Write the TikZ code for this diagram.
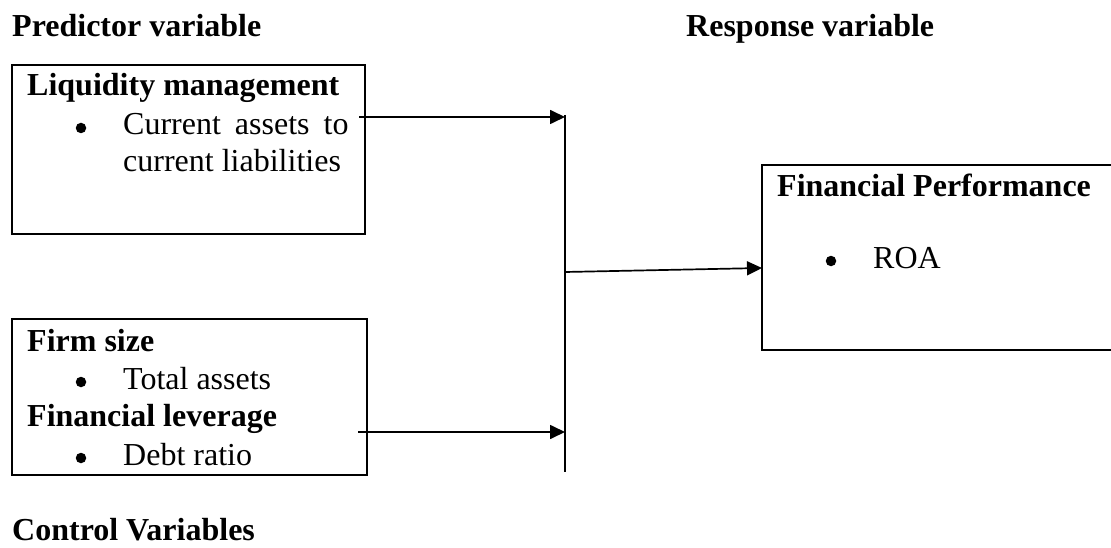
\documentclass[tikz,border=0pt]{standalone}
\usepackage{fontspec}
\setmainfont{Liberation Serif}
\usetikzlibrary{arrows.meta}
\begin{document}
\begin{tikzpicture}[x=1pt,y=-1pt,
  every node/.style={inner sep=0pt,anchor=base west,font=\fontsize{32}{37}\selectfont},
  hdr/.style={font=\fontsize{32}{37}\selectfont\bfseries},
  frame/.style={draw,line width=2pt},
  conn/.style={line width=1.7pt,-{Triangle[length=15pt,width=14pt]}},
  bul/.style={circle,fill,inner sep=0pt,minimum size=10.5pt,anchor=center}]
\useasboundingbox (0,0) rectangle (1111,548);
\node[hdr] (pv) at (12,37) {Predictor variable};
\node[hdr] (rv) at (686,37) {Response variable};
\node[hdr] (cv) at (12,540) {Control Variables};
% box 1
\draw[frame] (12,65) rectangle (365,234);
\node[hdr] (lm) at (27,96) {Liquidity management};
\node[bul] (b1) at (81,128) {};
\node (ca) at (123,135) {Current\hspace{6pt} assets\hspace{6pt} to};
\node (cl) at (123,172) {current liabilities};
% box 2
\draw[frame] (12,319) rectangle (367,475);
\node[hdr] (fs) at (27,351) {Firm size};
\node[bul] (b2) at (81,382) {};
\node (ta) at (123,389) {Total assets};
\node[hdr] (fl) at (27,426) {Financial leverage};
\node[bul] (b3) at (81,458) {};
\node (dr) at (123,465) {Debt ratio};
% box 3
\draw[frame] (1116,165) -- (762,165) -- (762,350) -- (1116,350);
\node[hdr] (fp) at (777,197) {Financial Performance};
\node[bul] (b4) at (831,261) {};
\node (roa) at (873,268) {ROA};
% connectors
\coordinate (vt) at (565,115);
\coordinate (vb) at (565,472);
\draw[line width=1.7pt] (vt) -- (vb);
\coordinate (s1) at (359,117);
\coordinate (e1) at (565,117);
\draw[conn] (s1) -- (e1);
\coordinate (s2) at (358,432);
\coordinate (e2) at (565,432);
\draw[conn] (s2) -- (e2);
\coordinate (s3) at (565,272);
\coordinate (e3) at (762,268);
\draw[conn] (s3) -- (e3);
\end{tikzpicture}
\end{document}
